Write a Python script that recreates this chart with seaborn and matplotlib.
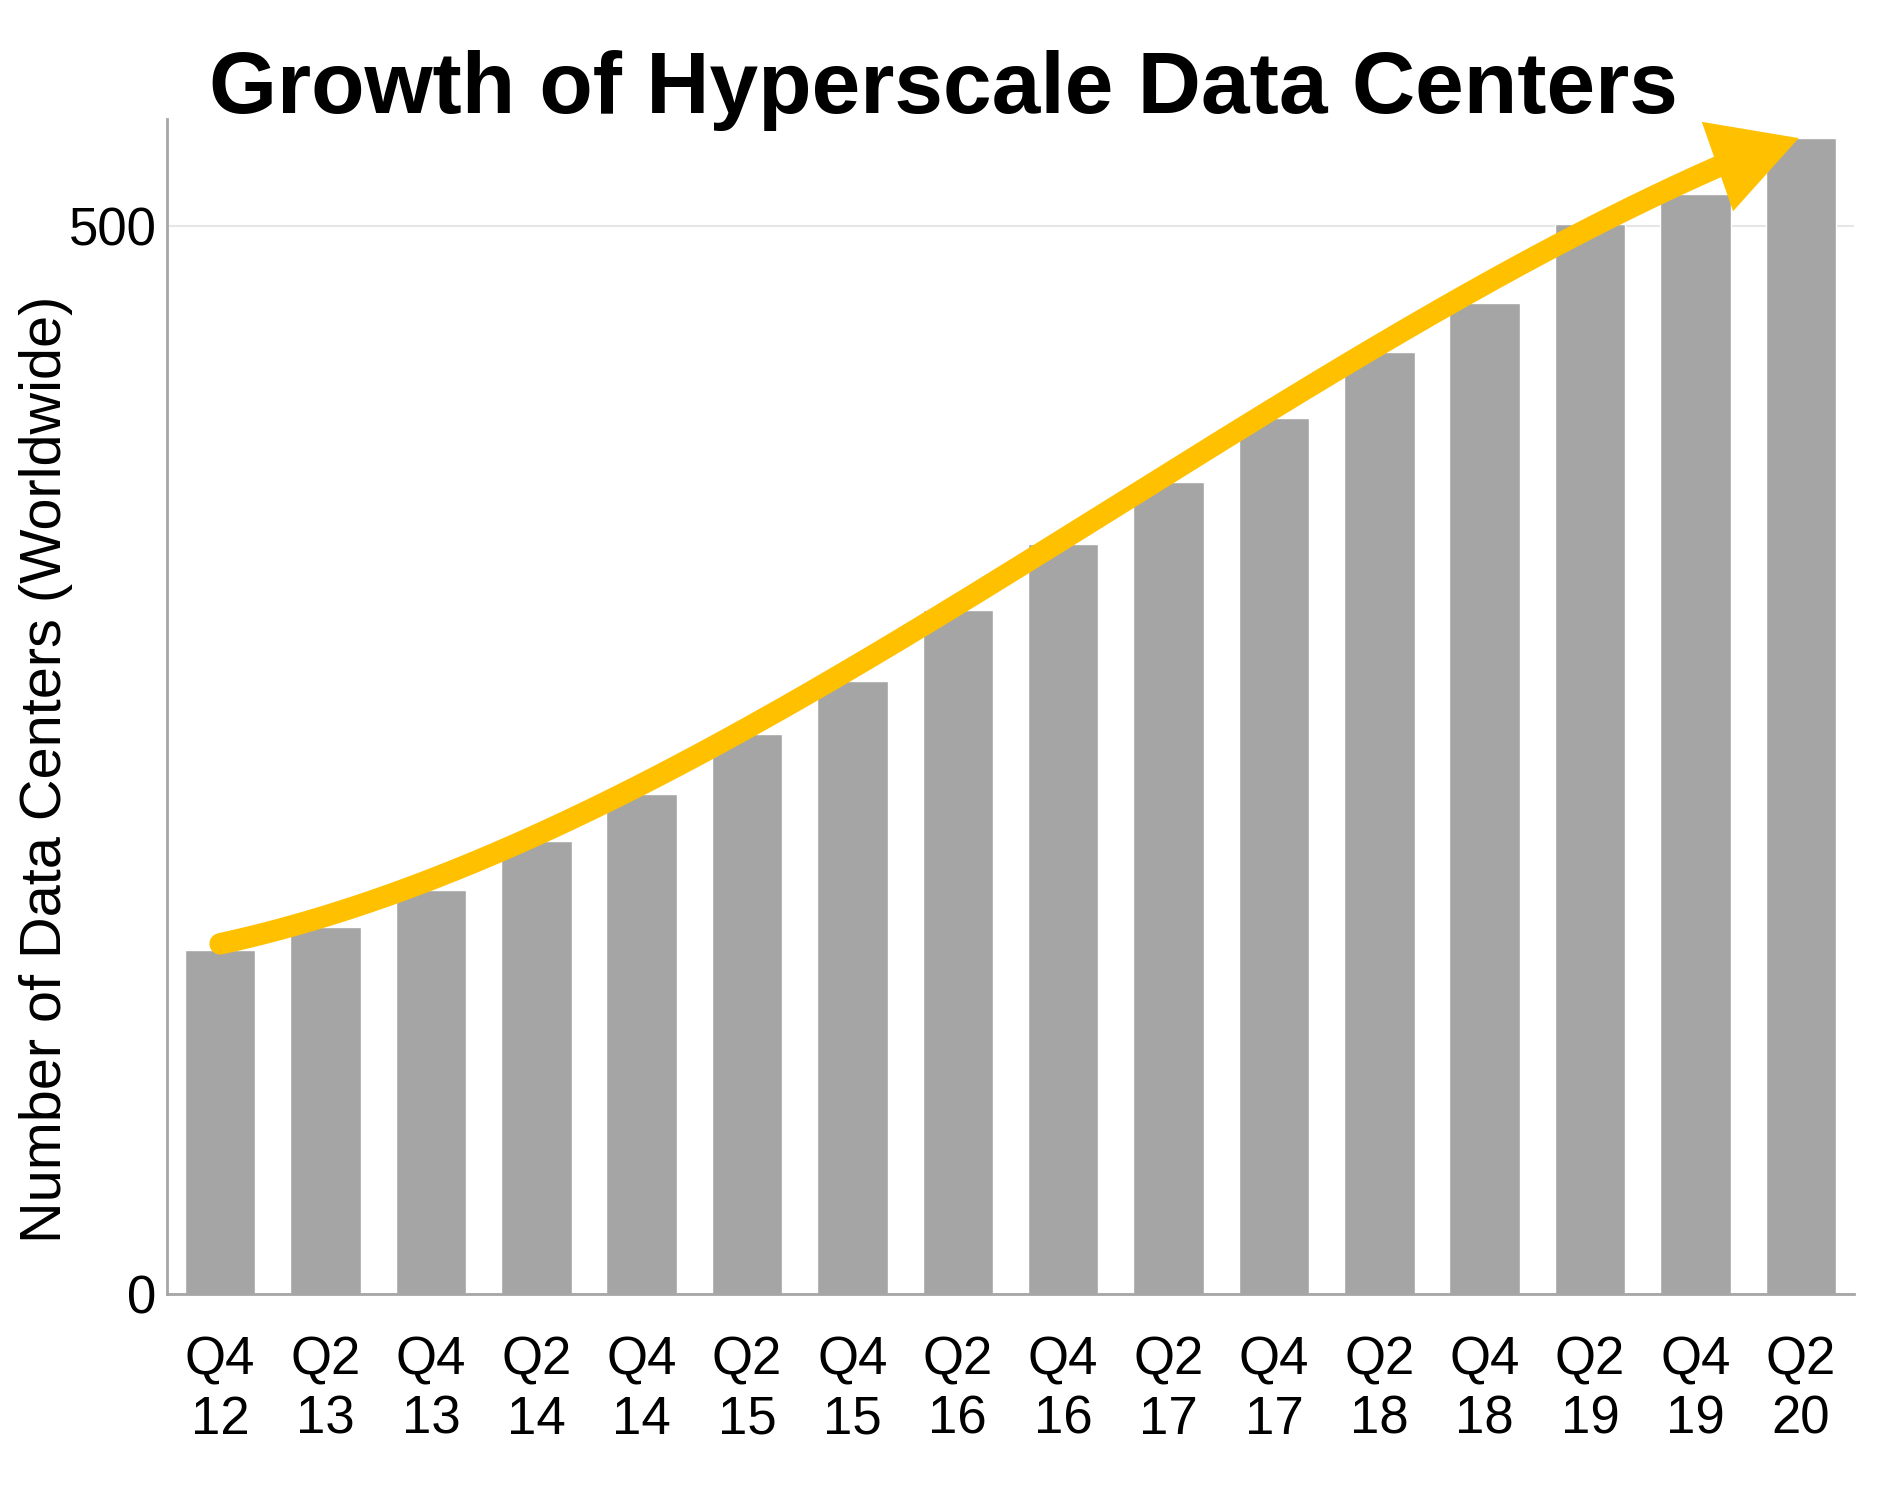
import matplotlib
matplotlib.use("Agg")
import matplotlib.pyplot as plt
import seaborn as sns
import numpy as np
import pandas as pd

# data
quarters = ["Q4\n12", "Q2\n13", "Q4\n13", "Q2\n14", "Q4\n14", "Q2\n15", "Q4\n15", "Q2\n16",
            "Q4\n16", "Q2\n17", "Q4\n17", "Q2\n18", "Q4\n18", "Q2\n19", "Q4\n19", "Q2\n20"]
data_centers = [161, 172, 189, 212, 234, 262, 287, 320, 351, 380, 410, 441, 464, 501, 515, 541]
y_ticks = [0, 500]

BAR_GRAY = "#A5A5A5"
ARROW_GOLD = "#FFC000"

sns.set_style("white")
plt.rcParams["font.family"] = ["Liberation Sans", "DejaVu Sans"]
plt.rcParams["text.color"] = "black"
plt.rcParams["xtick.color"] = "black"
plt.rcParams["ytick.color"] = "black"
plt.rcParams["axes.labelcolor"] = "black"

df = pd.DataFrame({"quarter": quarters, "count": data_centers})

fig = plt.figure(figsize=(19.03, 14.86), dpi=100)
ax = fig.add_axes([0.088, 0.129, 0.886, 0.791])

sns.barplot(data=df, x="quarter", y="count", color=BAR_GRAY, width=0.67,
            saturation=1, ax=ax, zorder=2)

ax.set_xlim(-0.5, len(quarters) - 0.5)
ax.set_ylim(0, 550)
ax.set_yticks(y_ticks)
ax.yaxis.grid(True, color="#E6E6E6", linewidth=1.5, zorder=0)
ax.set_axisbelow(True)

for side in ["top", "right"]:
    ax.spines[side].set_visible(False)
for side in ["left", "bottom"]:
    ax.spines[side].set_color("#A6A6A6")
    ax.spines[side].set_linewidth(2)

ax.tick_params(axis="x", length=0, pad=30, labelsize=38)
ax.tick_params(axis="y", length=0, pad=8, labelsize=38)
for lab in ax.get_xticklabels():
    lab.set_linespacing(1.22)

ax.set_xlabel("")
ax.set_ylabel("Number of Data Centers (Worldwide)", fontsize=41.5, va="center")
ax.yaxis.set_label_coords(-0.072, 0.447)

# smooth trend arrow following the bar tops
xs = np.arange(len(data_centers))
coef = np.polyfit(xs, data_centers, 3)
shaft_end = len(data_centers) - 1.75
xx = np.linspace(0, shaft_end, 200)
yy = np.polyval(coef, xx) + 4
ax.plot(xx, yy, color=ARROW_GOLD, linewidth=15.5, solid_capstyle="round", zorder=3)
ax.annotate("", xy=(len(data_centers) - 1.02, data_centers[-1]),
            xytext=(xx[-1], yy[-1]),
            arrowprops=dict(arrowstyle="-|>,head_length=1.0,head_width=0.55",
                            mutation_scale=62, color=ARROW_GOLD, lw=0,
                            shrinkA=0, shrinkB=0),
            zorder=4)

fig.suptitle("Growth of Hyperscale Data Centers", x=0.496, y=0.939, va="center",
             fontsize=63, fontweight="bold")

fig.savefig("out.png", dpi=100, facecolor="white")
